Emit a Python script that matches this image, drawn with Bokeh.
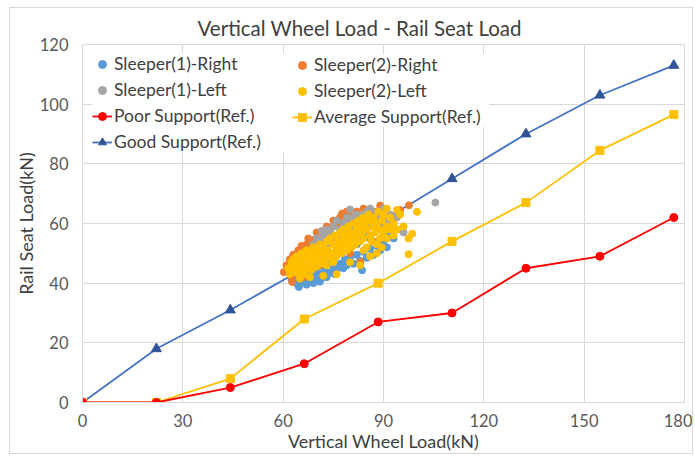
from bokeh.plotting import figure
from bokeh.models import Legend, LegendItem, Range1d
from bokeh.embed import file_html
from bokeh.resources import INLINE

# ---- data -------------------------------------------------------------
title_text = "Vertical Wheel Load - Rail Seat Load"
x_label = "Vertical Wheel Load(kN)"
y_label = "Rail Seat Load(kN)"

x_ticks = [0, 30, 60, 90, 120, 150, 180]
y_ticks = [0, 20, 40, 60, 80, 100, 120]

ref_wheel = [0, 22.1, 44.2, 66.3, 88.4, 110.5, 132.6, 154.7, 176.8]
poor_support = [0, 0, 5, 13, 27, 30, 45, 49, 62]
average_support = [0, 0, 8, 28, 40, 54, 67, 84.5, 96.5]
good_support = [0, 18, 31, 45, 60, 75, 90, 103, 113]

sleeper1_right = [(62.5, 41), (63, 42.5), (64, 40), (64.7, 38.7), (65, 41.5), (66, 40.5),
                  (66.5, 42.5), (67, 39.5), (68, 41), (68.5, 43), (69, 40), (70, 41.5),
                  (70.5, 43.5), (71, 40.5), (72, 42), (72.5, 44.5), (73, 42), (74, 43.5),
                  (75, 45.5), (75.5, 43), (76, 44.5), (77, 46.5), (78, 45), (78.5, 48),
                  (79, 46), (80, 48.5), (81, 46.5), (82, 49.5), (83, 47.5), (83.6, 44.3),
                  (84, 50.5), (85, 48.5), (86, 51.5), (87, 49.5), (88, 52.5), (89, 51),
                  (90, 54), (91, 52), (92, 56), (93, 55), (90, 57), (86, 55), (82, 53),
                  (78, 51), (74, 47), (70, 45), (66, 44.5), (88, 58), (84, 56), (80, 58),
                  (76, 55), (67.5, 44), (71.5, 46)]
sleeper2_right = [(60.2, 43.7), (61, 46), (61.5, 44.5), (62, 48), (62.5, 42), (62.7, 40.4),
                  (63, 49.5), (63.5, 45), (64, 47), (64.5, 51), (65, 49), (65.5, 52.5),
                  (66, 50.5), (67, 53), (67.5, 55), (68, 52), (69, 54.5), (70, 57),
                  (70.5, 53), (72, 56.5), (73, 59), (74, 58), (75, 61), (76, 59.5),
                  (77, 62), (77.6, 63.3), (78, 60.5), (79, 64), (80, 62.5), (81, 60),
                  (82, 64), (83, 62), (84, 65), (85, 63), (86, 60), (87, 64), (88, 62),
                  (89, 66), (90, 63.5), (92, 61), (95, 64.5), (97.6, 66.1), (83.1, 47.1),
                  (80, 50), (75, 48), (71, 46), (66, 42), (88, 54)]
sleeper1_left = [(66, 48), (67, 51), (68, 50), (69, 53), (70, 52), (70, 55), (71, 51),
                 (71.5, 57.5), (72, 54), (72, 56), (73, 53), (73, 58), (74, 55), (74, 57),
                 (75, 54), (75, 59), (76, 56), (76, 61), (77, 55), (77, 58), (78, 57),
                 (78, 60), (79, 59), (79, 62), (80, 64.7), (80, 58), (80, 61), (81, 57),
                 (81, 62), (82, 59), (82, 63), (83, 60), (83, 62), (84, 58), (84, 63),
                 (85, 60), (85, 64), (86, 61), (86, 65), (87, 62), (88, 60), (88, 64),
                 (89, 62), (90, 65), (90, 59), (91, 61), (92, 63), (93, 60), (94, 62),
                 (95, 58), (96, 57), (105.5, 67), (76, 52), (82, 55)]
sleeper2_left = [(61.5, 45), (62, 43), (62.5, 47), (63, 44), (63, 48), (63.5, 46), (64, 43.5),
                 (64, 49), (64.5, 45.5), (65, 47), (65, 44), (65.5, 50), (66, 46), (66, 48.5),
                 (66.5, 43), (67, 45), (67, 51), (67.5, 48), (68, 46), (68, 50), (68.5, 44.5),
                 (69, 47), (69, 52), (69.5, 49), (70, 45.5), (70, 51), (70.5, 48), (71, 46.5),
                 (71, 53), (71.5, 50), (72, 47), (72, 52), (72.5, 49), (73, 54), (73, 46),
                 (73.5, 51), (74, 48.5), (74, 55), (74.5, 50), (75, 47), (75, 53), (75.5, 56),
                 (76, 51), (76, 49), (76.5, 54), (77, 57), (77, 52), (77.5, 50), (78, 55),
                 (78, 58), (78.5, 53), (79, 56), (79, 51), (79.5, 59), (80, 54), (80, 57),
                 (80.5, 52), (81, 55), (81, 60), (81.5, 53), (82, 58), (82, 56), (82.5, 61),
                 (83, 54), (83, 59), (83.5, 57), (84, 62), (84, 55), (84.5, 60), (85, 52),
                 (85, 58), (85.5, 63), (86, 56), (86, 61), (86.5, 54), (87, 59), (87, 62),
                 (87.5, 57), (88, 53), (88, 60), (88.5, 64), (89, 58), (89, 55), (89.5, 61),
                 (90, 57), (90, 63), (91, 59), (91, 55), (92, 62), (92, 58), (93, 60),
                 (93, 56), (94, 58), (95, 63), (96, 59), (97.5, 55), (98.6, 56.6),
                 (97.5, 49.7), (100, 63.9), (94, 64.5), (91, 65), (88, 50), (84, 51),
                 (80, 47), (76, 43), (72, 42.5), (68, 42), (65, 41.5), (89.5, 52), (86, 49),
                 (83, 46)]

# ---- styling constants ------------------------------------------------
FONT = "Lato"
TXT = "#404040"
TICK_TXT = "#595959"
GRID = "#D9D9D9"

p = figure(width=684, height=447, output_backend="svg", toolbar_location=None,
           x_range=Range1d(0, 180), y_range=Range1d(0, 120),
           min_border_left=72, min_border_right=10, min_border_top=36,
           min_border_bottom=53)
p.styles = {"border": "1px solid #D9D9D9", "margin-left": "9px", "margin-top": "7px"}

p.title.text = title_text
p.title.align = "left"
p.title.offset = 115
p.title.text_font = FONT
p.title.text_font_size = "20.5px"
p.title.text_font_style = "normal"
p.title.text_color = TXT
p.title.standoff = 9

p.outline_line_color = GRID
p.grid.grid_line_color = GRID
p.xaxis.ticker = x_ticks
p.yaxis.ticker = y_ticks
for ax in (p.xaxis, p.yaxis):
    ax.major_tick_line_color = None
    ax.minor_tick_line_color = None
    ax.axis_line_color = GRID
    ax.major_label_text_font = FONT
    ax.major_label_text_font_size = "16.5px"
    ax.major_label_text_color = TICK_TXT
    ax.axis_label_text_font = FONT
    ax.axis_label_text_font_size = "18px"
    ax.axis_label_text_font_style = "normal"
    ax.axis_label_text_color = TXT
p.xaxis.axis_label = x_label
p.yaxis.axis_label = y_label
p.xaxis.major_label_standoff = 5
p.xaxis.axis_label_standoff = 0
p.yaxis.major_label_standoff = 8
p.yaxis.axis_label_standoff = 0

# reference lines
good_line = p.line(ref_wheel, good_support, line_color="#4472C4", line_width=1.8)
good_mk = p.scatter(ref_wheel, good_support, marker="triangle", size=10,
                    fill_color="#2F5597", line_color="#2F5597")
avg_line = p.line(ref_wheel, average_support, line_color="#FFC000", line_width=1.8)
avg_mk = p.scatter(ref_wheel, average_support, marker="square", size=8,
                   fill_color="#FFC000", line_color="#FFC000")
poor_line = p.line(ref_wheel, poor_support, line_color="#FF0000", line_width=1.8)
poor_mk = p.scatter(ref_wheel, poor_support, marker="circle", size=8,
                    fill_color="#FF0000", line_color="#FF0000")

def pts(series):
    return [a for a, b in series], [b for a, b in series]

sx, sy = pts(sleeper1_right)
r1 = p.scatter(sx, sy, size=7, fill_color="#5B9BD5", line_color="#5B9BD5")
sx, sy = pts(sleeper2_right)
r2 = p.scatter(sx, sy, size=7, fill_color="#ED7D31", line_color="#ED7D31")
sx, sy = pts(sleeper1_left)
r3 = p.scatter(sx, sy, size=7, fill_color="#A5A5A5", line_color="#A5A5A5")
sx, sy = pts(sleeper2_left)
r4 = p.scatter(sx, sy, size=7, fill_color="#FFC000", line_color="#FFC000")

def make_legend(items, loc, label_width):
    lg = Legend(items=items, location=loc, orientation="vertical",
                label_text_font=FONT, label_text_font_size="17.5px",
                label_text_color=TXT, glyph_width=20, glyph_height=20,
                label_height=20, spacing=5, padding=0, margin=0,
                label_standoff=2, label_width=label_width,
                border_line_color=None, background_fill_color="white",
                background_fill_alpha=1.0)
    return lg

left_items = [LegendItem(label="Sleeper(1)-Right", renderers=[r1]),
              LegendItem(label="Sleeper(1)-Left", renderers=[r3]),
              LegendItem(label="Poor Support(Ref.)", renderers=[poor_line, poor_mk]),
              LegendItem(label="Good Support(Ref.)", renderers=[good_line, good_mk])]
right_items = [LegendItem(label="Sleeper(2)-Right", renderers=[r2]),
               LegendItem(label="Sleeper(2)-Left", renderers=[r4]),
               LegendItem(label="Average Support(Ref.)", renderers=[avg_line, avg_mk])]

p.add_layout(make_legend(left_items, (10, 250), 178))
p.add_layout(make_legend(right_items, (210, 275), 175))

open("out.html", "w").write(file_html(p, INLINE))
